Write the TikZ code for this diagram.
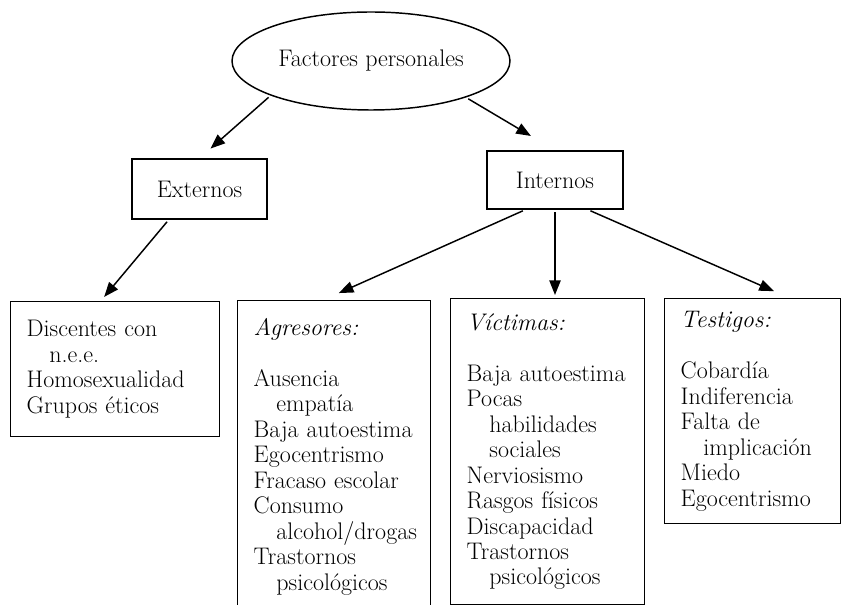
\documentclass[tikz,border=0pt]{standalone}
\usetikzlibrary{
	shapes.geometric,
	arrows.meta
}

\newcommand{\sangria}{\hspace*{17pt}}

\begin{document}
\begin{tikzpicture}[x=0.75pt,y=-0.75pt,
		font=\fontsize{18}{19.1}\selectfont,
		line width=1.1pt,
		elipse/.style={draw,ellipse,inner sep=0pt,minimum width=208.5pt,minimum height=73.5pt},
		caja/.style={draw,rectangle,inner sep=0pt},
		lista/.style={draw,rectangle,anchor=north west,align=left,inner xsep=12pt,inner ysep=0pt},
		flecha/.style={-{Triangle[length=11pt,width=8.5pt]},shorten <=2pt}
	]
		\useasboundingbox (0,0) rectangle (841,605);
		\draw
			node[elipse] (fp) at (371,61) {Factores personales}
			node[caja,minimum width=101.25pt,minimum height=45pt] (ext) at (199.5,189) {Externos}
			node[caja,minimum width=102pt,minimum height=43.5pt]  (int) at (555,180)   {Internos}

			node[lista,text width=132.75pt,minimum height=101.25pt] (disc) at (10,301)
				{Discentes con\\ \sangria n.e.e.\\ Homosexualidad\\ Grupos éticos}
			node[lista,text width=120.75pt,minimum height=234pt] (agr) at (237,300)
				{\textit{Agresores:}\\[19.1pt] Ausencia\\ \sangria empatía\\ Baja autoestima\\
				 Egocentrismo\\ Fracaso escolar\\ Consumo\\ \sangria\mbox{alcohol/drogas}\\
				 Trastornos\\ \sangria psicológicos}
			node[lista,text width=121.5pt,minimum height=229.5pt] (vic) at (450,298)
				{\textit{Víctimas:}\\[19.1pt] Baja autoestima\\ Pocas\\ \sangria habilidades\\
				 \sangria sociales\\ Nerviosismo\\ Rasgos físicos\\ Discapacidad\\
				 Trastornos\\ \sangria psicológicos}
			node[lista,text width=108pt,minimum height=168.75pt] (tes) at (664,298)
				{\textit{Testigos:}\\[19.1pt] Cobardía\\ Indiferencia\\ Falta de\\
				 \sangria implicación\\ Miedo\\ Egocentrismo}

			(fp.199)   edge[flecha,shorten >=11pt]   (ext.north)
			(fp.339)   edge[flecha,shorten >=21pt]   (int.north)
			(ext.225)  edge[flecha,shorten >=4pt]    (disc.102)
			(int.225)  edge[flecha,shorten >=12.75pt] (agr.94)
			(int.south) edge[flecha,shorten >=2.25pt] (int.south |- vic.north)
			(int.318)  edge[flecha,shorten >=12.75pt] (tes.72)
		;
	\end{tikzpicture}
\end{document}
